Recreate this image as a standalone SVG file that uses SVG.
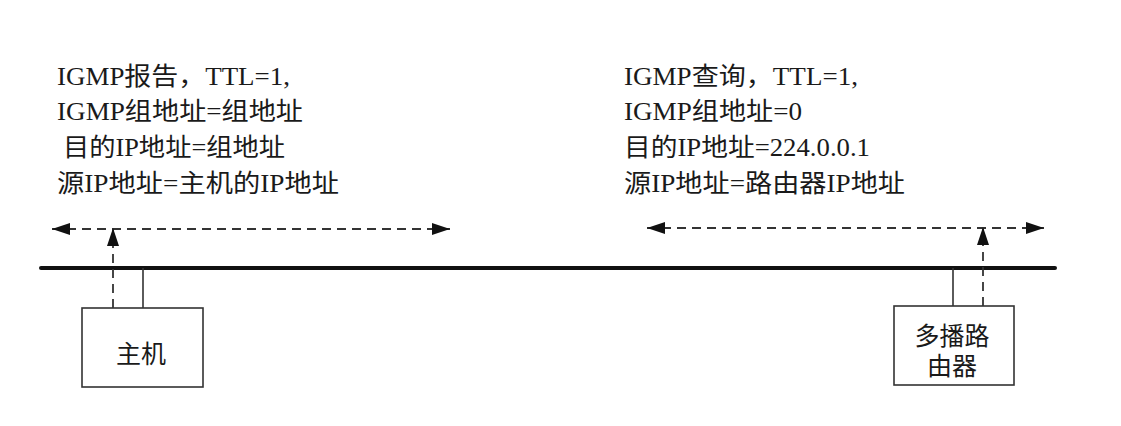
<svg xmlns="http://www.w3.org/2000/svg" width="1121" height="426" viewBox="0 0 1121 426">
<style>
.t{font-family:"Liberation Serif","Noto Sans CJK SC",serif;font-size:25px;fill:#1a1a1a}
.n{font-family:"Liberation Serif","Noto Sans CJK SC",serif;font-size:25px;fill:#1a1a1a;text-anchor:middle}
.box{fill:#fff;stroke:#333;stroke-width:1.6}
.dash{fill:none;stroke:#333;stroke-width:1.8;stroke-dasharray:9 6}
.solid{fill:none;stroke:#333;stroke-width:1.6}
.bus{fill:none;stroke:#111;stroke-width:4;stroke-linecap:round}
</style>
<defs>
<marker id="ah" viewBox="0 0 18 12" refX="18" refY="6" markerWidth="18" markerHeight="12" markerUnits="userSpaceOnUse" orient="auto-start-reverse">
<path d="M0,0 L18,6 L0,12 Z" fill="#111"/>
</marker>
</defs>
<rect width="1121" height="426" fill="#fff"/>
<g id="labels">
<text class="t" x="57" y="85" textLength="233" lengthAdjust="spacingAndGlyphs">IGMP报告，TTL=1,</text>
<text class="t" x="57" y="120" textLength="246" lengthAdjust="spacingAndGlyphs">IGMP组地址=组地址</text>
<text class="t" x="63" y="156" textLength="222" lengthAdjust="spacingAndGlyphs">目的IP地址=组地址</text>
<text class="t" x="57" y="192" textLength="282" lengthAdjust="spacingAndGlyphs">源IP地址=主机的IP地址</text>
<text class="t" x="624" y="85" textLength="234" lengthAdjust="spacingAndGlyphs">IGMP查询，TTL=1,</text>
<text class="t" x="624" y="120" textLength="178" lengthAdjust="spacingAndGlyphs">IGMP组地址=0</text>
<text class="t" x="624" y="156" textLength="246" lengthAdjust="spacingAndGlyphs">目的IP地址=224.0.0.1</text>
<text class="t" x="624" y="192" textLength="281" lengthAdjust="spacingAndGlyphs">源IP地址=路由器IP地址</text>
</g>
<g id="connectors">
<line class="bus" x1="41" y1="268" x2="1055" y2="268"/>
<line class="solid" x1="143" y1="268" x2="143" y2="308"/>
<line class="solid" x1="953" y1="268" x2="953" y2="306"/>
<line class="dash" x1="52" y1="229" x2="450" y2="229" marker-start="url(#ah)" marker-end="url(#ah)"/>
<line class="dash" x1="113" y1="308" x2="113" y2="228" marker-end="url(#ah)"/>
<line class="dash" x1="647" y1="228" x2="1044" y2="228" marker-start="url(#ah)" marker-end="url(#ah)"/>
<line class="dash" x1="983" y1="306" x2="983" y2="227" marker-end="url(#ah)"/>
</g>
<g id="host">
<rect class="box" x="82" y="308" width="121" height="79"/>
<text class="n" x="141" y="363">主机</text>
</g>
<g id="router">
<rect class="box" x="894" y="306" width="120" height="79"/>
<text class="n" x="952" y="345">多播路</text>
<text class="n" x="952" y="375">由器</text>
</g>
</svg>
